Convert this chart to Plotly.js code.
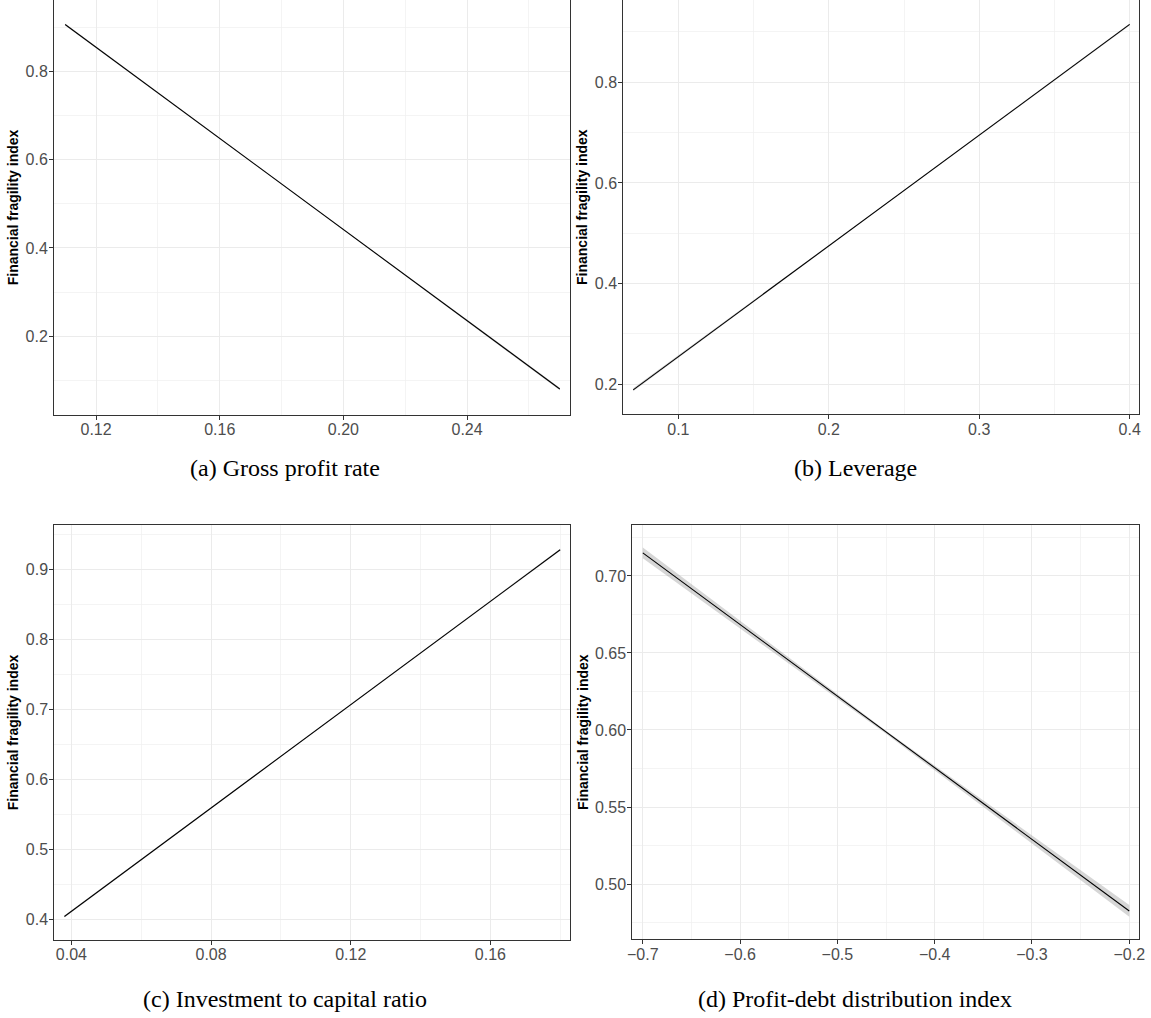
<!DOCTYPE html>
<html>
<head>
<meta charset="utf-8">
<script src="https://cdn.plot.ly/plotly-3.0.1.min.js"></script>
<style>html,body{margin:0;padding:0;background:#fff;}#chart{width:1151px;height:1018px;}</style>
</head>
<body>
<div id="chart"></div>
<script>
// ---- Data ----
// (a) Gross profit rate
const grossProfitX = [0.11, 0.19, 0.27];
const grossProfitY = [0.907, 0.4935, 0.080];
const grossProfitSE = [0.002, 0.001, 0.003];
// (b) Leverage
const leverageX = [0.07, 0.235, 0.40];
const leverageY = [0.189, 0.552, 0.915];
const leverageSE = [0.003, 0.0012, 0.002];
// (c) Investment to capital ratio
const investX = [0.038, 0.109, 0.18];
const investY = [0.404, 0.666, 0.928];
const investSE = [0.0015, 0.0008, 0.0015];
// (d) Profit-debt distribution index
const profitDebtX = [-0.70, -0.45, -0.20];
const profitDebtY = [0.715, 0.5985, 0.4825];
const profitDebtSE = [0.0035, 0.001, 0.0038];

// Tick labels
const ticksAX = [0.12, 0.16, 0.20, 0.24], labelsAX = ["0.12", "0.16", "0.20", "0.24"];
const ticksAY = [0.2, 0.4, 0.6, 0.8], labelsAY = ["0.2", "0.4", "0.6", "0.8"];
const ticksBX = [0.1, 0.2, 0.3, 0.4], labelsBX = ["0.1", "0.2", "0.3", "0.4"];
const ticksBY = [0.2, 0.4, 0.6, 0.8], labelsBY = ["0.2", "0.4", "0.6", "0.8"];
const ticksCX = [0.04, 0.08, 0.12, 0.16], labelsCX = ["0.04", "0.08", "0.12", "0.16"];
const ticksCY = [0.4, 0.5, 0.6, 0.7, 0.8, 0.9], labelsCY = ["0.4", "0.5", "0.6", "0.7", "0.8", "0.9"];
const ticksDX = [-0.7, -0.6, -0.5, -0.4, -0.3, -0.2], labelsDX = ["\u22120.7", "\u22120.6", "\u22120.5", "\u22120.4", "\u22120.3", "\u22120.2"];
const ticksDY = [0.50, 0.55, 0.60, 0.65, 0.70], labelsDY = ["0.50", "0.55", "0.60", "0.65", "0.70"];

const yTitle = "Financial fragility index";
const captions = ["(a) Gross profit rate", "(b) Leverage", "(c) Investment to capital ratio", "(d) Profit-debt distribution index"];

// ---- Build ----
const W = 1151, H = 1018;
const panels = [
  {x: grossProfitX, y: grossProfitY, se: grossProfitSE, xa: 'x', ya: 'y'},
  {x: leverageX, y: leverageY, se: leverageSE, xa: 'x2', ya: 'y2'},
  {x: investX, y: investY, se: investSE, xa: 'x3', ya: 'y3'},
  {x: profitDebtX, y: profitDebtY, se: profitDebtSE, xa: 'x4', ya: 'y4'}
];
const traces = [];
panels.forEach(p => {
  const lo = p.y.map((v, i) => v - p.se[i]);
  const hi = p.y.map((v, i) => v + p.se[i]);
  traces.push({x: p.x, y: lo, xaxis: p.xa, yaxis: p.ya, mode: 'lines', line: {width: 0, color: 'rgba(0,0,0,0)'}, showlegend: false, hoverinfo: 'skip'});
  traces.push({x: p.x, y: hi, xaxis: p.xa, yaxis: p.ya, mode: 'lines', fill: 'tonexty', fillcolor: 'rgba(153,153,153,0.4)', line: {width: 0, color: 'rgba(0,0,0,0)'}, showlegend: false, hoverinfo: 'skip'});
  traces.push({x: p.x, y: p.y, xaxis: p.xa, yaxis: p.ya, mode: 'lines', line: {width: 1.1, color: '#000'}, showlegend: false, hoverinfo: 'skip'});
});

const tickFont = {family: 'Liberation Sans, Arial, sans-serif', size: 16, color: '#4d4d4d'};
function axis(domain, range, vals, text, minorDtick, anchor, isY) {
  const a = {
    domain: domain, range: range, anchor: anchor,
    tickmode: 'array', tickvals: vals, ticktext: text,
    showgrid: true, gridcolor: '#ebebeb', gridwidth: 1,
    minor: {showgrid: true, gridcolor: '#f0f0f0', gridwidth: 0.7, tickmode: 'linear', dtick: minorDtick, tick0: 0},
    showline: true, mirror: true, linecolor: '#333333', linewidth: 1,
    ticks: 'outside', ticklen: 4, tickwidth: 1, tickcolor: '#333333',
    tickfont: tickFont, zeroline: false, fixedrange: true,
    ticklabelstandoff: isY ? -2 : -4
  };
  if (isY) {
    a.title = {text: yTitle, font: {family: 'Liberation Sans, Arial, sans-serif', size: 14, color: '#000', weight: 'bold'}, standoff: 3};
  }
  return a;
}
function px(v) { return v / W; }
function py(v) { return 1 - v / H; }
const capFont = {family: 'Liberation Serif, Times New Roman, serif', size: 24, color: '#000'};
function caption(text, cx, cy) {
  return {text: text, x: px(cx), y: py(cy), xref: 'paper', yref: 'paper', xanchor: 'center', yanchor: 'middle', showarrow: false, font: capFont};
}

const layout = {
  width: W, height: H, autosize: false,
  margin: {l: 0, r: 0, t: 0, b: 0},
  paper_bgcolor: '#fff', plot_bgcolor: '#fff',
  showlegend: false,
  xaxis: axis([px(54), px(570)], [0.1064, 0.2733], ticksAX, labelsAX, 0.02, 'y', false),
  yaxis: axis([py(415), py(0)], [0.0209, 0.9626], ticksAY, labelsAY, 0.1, 'x', true),
  xaxis2: axis([px(623.3), px(1139.3)], [0.0634, 0.4064], ticksBX, labelsBX, 0.05, 'y2', false),
  yaxis2: axis([py(414.3), py(0)], [0.1404, 0.9635], ticksBY, labelsBY, 0.1, 'x2', true),
  xaxis3: axis([px(54.3), px(570.3)], [0.0351, 0.1829], ticksCX, labelsCX, 0.02, 'y3', false),
  yaxis3: axis([py(940), py(525)], [0.3704, 0.9633], ticksCY, labelsCY, 0.05, 'x3', true),
  xaxis4: axis([px(632.3), px(1139.3)], [-0.7108, -0.1897], ticksDX, labelsDX, 0.05, 'y4', false),
  yaxis4: axis([py(939.3), py(525)], [0.4641, 0.7331], ticksDY, labelsDY, 0.025, 'x4', true),
  annotations: [
    caption(captions[0], 285, 468),
    caption(captions[1], 855, 468),
    caption(captions[2], 285, 999),
    caption(captions[3], 855, 999)
  ]
};

Plotly.newPlot('chart', traces, layout, {staticPlot: true, displayModeBar: false});
</script>
</body>
</html>
